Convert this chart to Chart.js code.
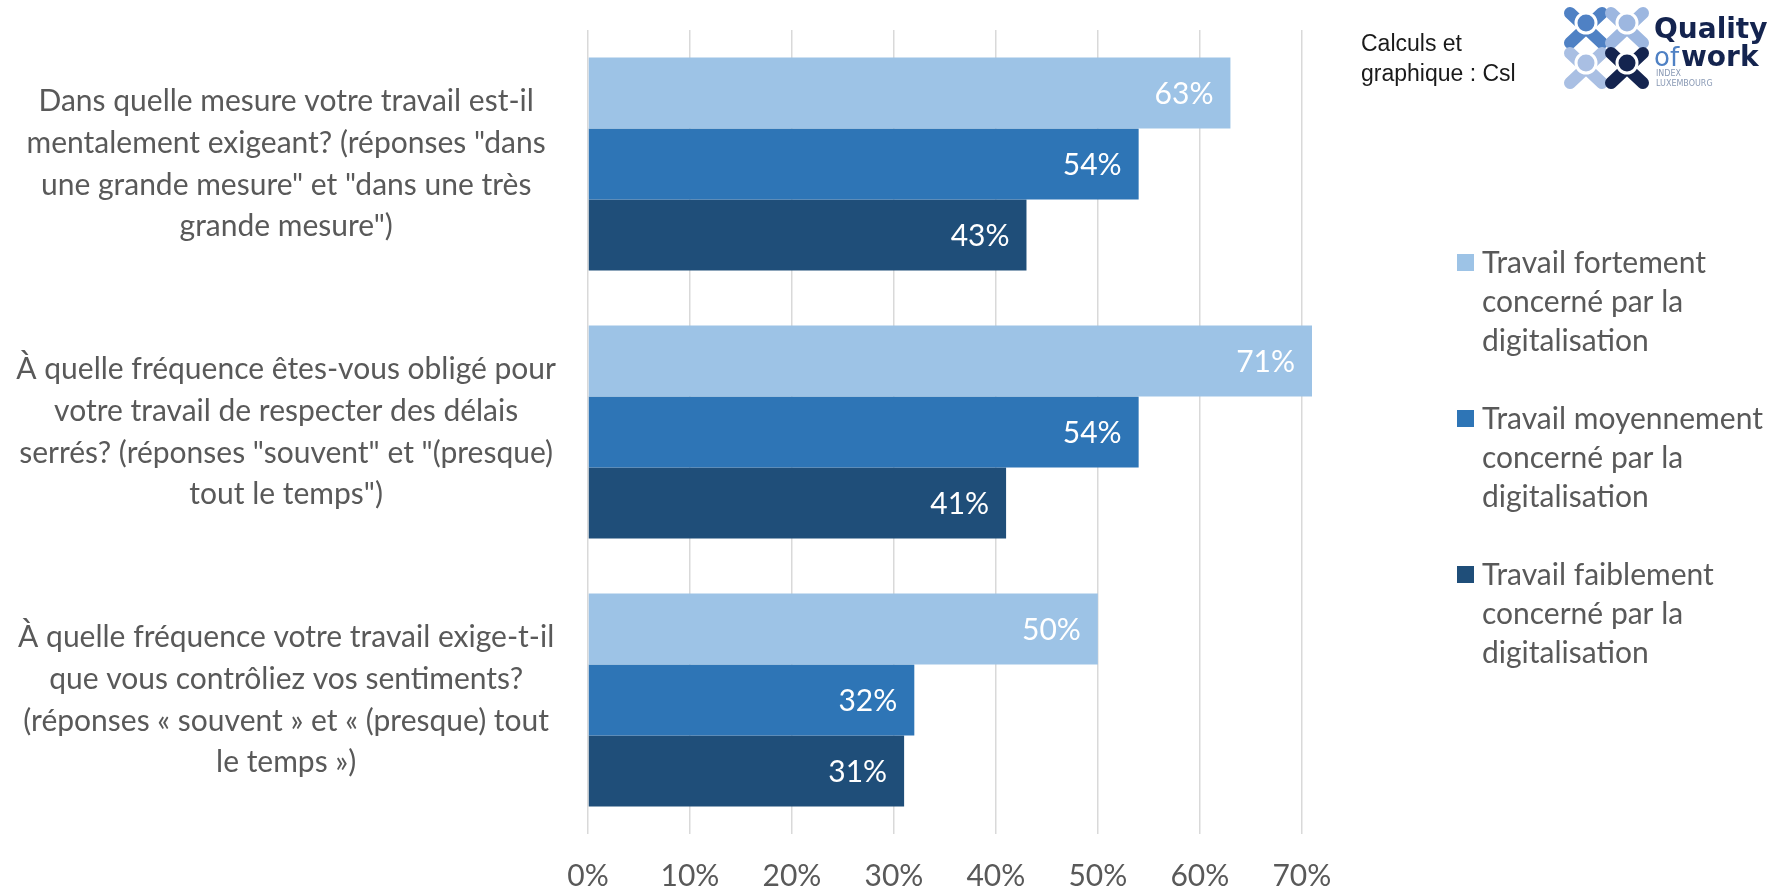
<!DOCTYPE html>
<html lang="fr">
<head>
<meta charset="utf-8">
<title>Digitalisation et exigences du travail</title>
<script src="https://cdn.jsdelivr.net/npm/chart.js@4.4.1/dist/chart.umd.min.js"></script>
<style>
  html, body { margin: 0; padding: 0; background: #fff; }
  #wrap { width: 1783px; height: 887px; position: relative; }
</style>
</head>
<body>
<div id="wrap"><canvas id="chart"></canvas></div>
<script>
// categories (multi-line, as in the original)
const categories = [
  ['Dans quelle mesure votre travail est-il', 'mentalement exigeant? (réponses "dans', 'une grande mesure" et "dans une très', 'grande mesure")'],
  ['À quelle fréquence êtes-vous obligé pour', 'votre travail de respecter des délais', 'serrés? (réponses "souvent" et "(presque)', 'tout le temps")'],
  ['À quelle fréquence votre travail exige-t-il', 'que vous contrôliez vos sentiments?', '(réponses « souvent » et « (presque) tout', 'le temps »)']
];

const seriesNames = [
  ['Travail fortement', 'concerné par la', 'digitalisation'],
  ['Travail moyennement', 'concerné par la', 'digitalisation'],
  ['Travail faiblement', 'concerné par la', 'digitalisation']
];

const fortement = [63, 71, 50];
const moyennement = [54, 54, 32];
const faiblement = [43, 41, 31];

const xTicks = [0, 10, 20, 30, 40, 50, 60, 70];

const colors = ['#9DC3E6', '#2E75B6', '#1F4E79'];
const FONT = 'Lato, Carlito, Calibri, sans-serif';
const GREY = '#595959';

// white value labels at the end of each bar
const valueLabels = {
  id: 'valueLabels',
  afterDatasetsDraw(chart) {
    const ctx = chart.ctx;
    ctx.save();
    ctx.fillStyle = '#fff';
    ctx.font = '30px ' + FONT;
    ctx.textAlign = 'right';
    ctx.textBaseline = 'middle';
    chart.data.datasets.forEach((ds, i) => {
      chart.getDatasetMeta(i).data.forEach((bar, j) => {
        ctx.fillText(ds.data[j] + '%', bar.x - 17, bar.y + 1);
      });
    });
    ctx.restore();
  }
};

// legend with wrapped labels on the right
const sideLegend = {
  id: 'sideLegend',
  afterDraw(chart) {
    const ctx = chart.ctx;
    const x = 1457;
    ctx.save();
    ctx.font = '30px ' + FONT;
    ctx.textBaseline = 'middle';
    ctx.textAlign = 'left';
    chart.data.datasets.forEach((ds, i) => {
      const y0 = 263 + i * 156;
      ctx.fillStyle = ds.backgroundColor;
      ctx.fillRect(x, y0 - 9, 17, 17);
      ctx.fillStyle = GREY;
      seriesNames[i].forEach((line, k) => ctx.fillText(line, x + 25, y0 + k * 39));
    });
    ctx.restore();
  }
};

// source note + logo
const header = {
  id: 'header',
  afterDraw(chart) {
    const ctx = chart.ctx;
    ctx.save();
    ctx.fillStyle = '#1a1a1a';
    ctx.font = '23px "Liberation Sans", Arial, sans-serif';
    ctx.textBaseline = 'middle';
    ctx.fillText('Calculs et', 1361, 45);
    ctx.fillText('graphique : Csl', 1361, 75);

    // little figures of the logo
    const figs = [
      [1586, 27, '#4F81C4'], [1627, 27, '#9DB7E0'],
      [1586, 67, '#A9BFE3'], [1627, 67, '#14244F']
    ];
    ctx.lineCap = 'round';
    figs.forEach(([cx, cy, c]) => {
      ctx.strokeStyle = c;
      ctx.lineWidth = 12;
      ctx.beginPath();
      ctx.moveTo(cx - 16, cy - 14); ctx.lineTo(cx + 16, cy + 16);
      ctx.moveTo(cx + 16, cy - 14); ctx.lineTo(cx - 16, cy + 16);
      ctx.stroke();
      ctx.fillStyle = c;
      ctx.strokeStyle = '#fff';
      ctx.lineWidth = 3;
      ctx.beginPath();
      ctx.arc(cx, cy - 4, 10, 0, Math.PI * 2);
      ctx.fill();
      ctx.stroke();
    });

    ctx.fillStyle = '#14244F';
    ctx.font = 'bold 28px "DejaVu Sans", sans-serif';
    ctx.textBaseline = 'alphabetic';
    ctx.fillText('Quality', 1654, 38);
    ctx.fillStyle = '#4F81C4';
    ctx.font = '26px "DejaVu Sans", sans-serif';
    ctx.fillText('of', 1654, 66);
    ctx.fillStyle = '#14244F';
    ctx.font = 'bold 28px "DejaVu Sans", sans-serif';
    ctx.fillText('work', 1681, 66);
    ctx.fillStyle = '#8a9ab5';
    ctx.font = '8px "DejaVu Sans", sans-serif';
    ctx.fillText('INDEX', 1656, 76);
    ctx.fillText('LUXEMBOURG', 1656, 86);
    ctx.restore();
  }
};

new Chart(document.getElementById('chart'), {
  type: 'bar',
  data: {
    labels: categories,
    datasets: [
      { label: seriesNames[0].join(' '), data: fortement, backgroundColor: colors[0] },
      { label: seriesNames[1].join(' '), data: moyennement, backgroundColor: colors[1] },
      { label: seriesNames[2].join(' '), data: faiblement, backgroundColor: colors[2] }
    ]
  },
  options: {
    indexAxis: 'y',
    responsive: true,
    maintainAspectRatio: false,
    animation: false,
    devicePixelRatio: 1,
    layout: { padding: { top: 30, right: 471, bottom: 0, left: 0 } },
    datasets: { bar: { barPercentage: 1, categoryPercentage: 0.795 } },
    plugins: { legend: { display: false }, tooltip: { enabled: false } },
    scales: {
      x: {
        min: 0,
        max: 71,
        afterBuildTicks: s => { s.ticks = xTicks.map(v => ({ value: v })); },
        afterFit: s => { s.height = 53; s.paddingLeft = 0; s.paddingRight = 0; },
        grid: { color: '#D9D9D9', lineWidth: 1.5, drawTicks: false },
        border: { display: false },
        ticks: {
          padding: 24,
          color: GREY,
          font: { family: FONT, size: 30 },
          callback: v => v + '%'
        }
      },
      y: {
        afterFit: s => { s.width = 588; s.paddingTop = 0; s.paddingBottom = 0; },
        grid: { display: false },
        border: { display: false },
        ticks: {
          crossAlign: 'center',
          padding: 24,
          color: GREY,
          font: { family: FONT, size: 30, lineHeight: 1.39 }
        }
      }
    }
  },
  plugins: [valueLabels, sideLegend, header]
});
</script>
</body>
</html>
